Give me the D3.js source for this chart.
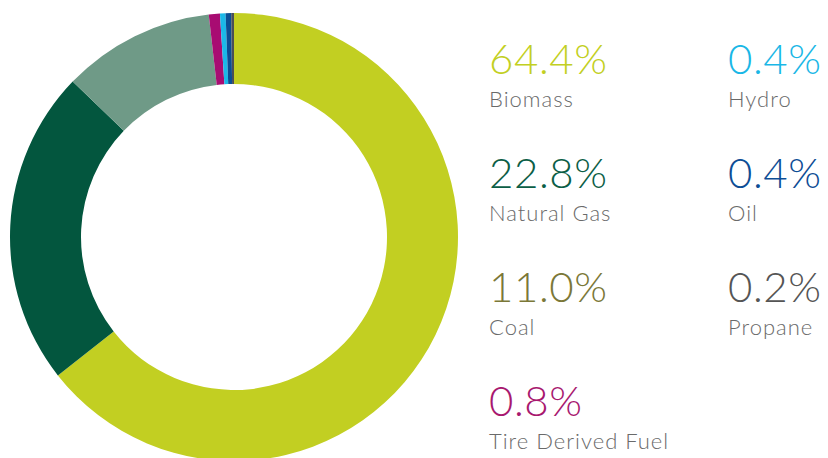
<!DOCTYPE html>
<html>
<head>
<meta charset="utf-8">
<script src="https://cdn.jsdelivr.net/npm/d3@7"></script>
<style>
  body { margin: 0; background: #fff; }
  svg text { font-family: Lato, "Open Sans", sans-serif; }
</style>
</head>
<body>
<svg width="828" height="458"></svg>
<script>
var labels = ["Biomass", "Natural Gas", "Coal", "Tire Derived Fuel", "Hydro", "Oil", "Propane"];
var shares = [64.4, 22.8, 11.0, 0.8, 0.4, 0.4, 0.2];
var sliceColors = ["#c2cf22", "#03563e", "#6f9a87", "#a80c72", "#1bb8e8", "#0b4e94", "#4a4f57"];
var textColors = ["#c2cf22", "#0b5e46", "#7b7838", "#a8186f", "#1ab7e6", "#0d4d95", "#555555"];
// legend slots: column, row
var legendCol = [0, 0, 0, 0, 1, 1, 1];
var legendRow = [0, 1, 2, 3, 0, 1, 2];

var svg = d3.select("svg");
var data = labels.map(function(d, i) { return {label: d, value: shares[i], i: i}; });

var pie = d3.pie().sort(null).value(function(d) { return d.value; });
var arc = d3.arc().innerRadius(153).outerRadius(224);

var g = svg.append("g").attr("transform", "translate(234,237)");
g.selectAll("path")
  .data(pie(data))
  .enter().append("path")
  .attr("d", arc)
  .attr("fill", function(d) { return sliceColors[d.data.i]; });

var colX = d3.scaleOrdinal().domain([0, 1]).range([489, 728]);
var rowY = d3.scaleLinear().domain([0, 1]).range([74, 188]);

var legend = svg.selectAll(".legend")
  .data(data)
  .enter().append("g")
  .attr("class", "legend")
  .attr("transform", function(d) { return "translate(" + colX(legendCol[d.i]) + "," + rowY(legendRow[d.i]) + ")"; });

legend.append("text")
  .attr("font-size", "42px")
  .attr("font-weight", 300)
  .attr("letter-spacing", "0.6px")
  .style("fill", function(d) { return textColors[d.i]; })
  .text(function(d) { return d.value.toFixed(1) + "%"; });

legend.append("text")
  .attr("x", 0)
  .attr("y", 33)
  .attr("font-size", "22px")
  .attr("font-weight", 300)
  .attr("letter-spacing", "1px")
  .style("fill", "#6a6a6a")
  .text(function(d) { return d.label; });
</script>
</body>
</html>
